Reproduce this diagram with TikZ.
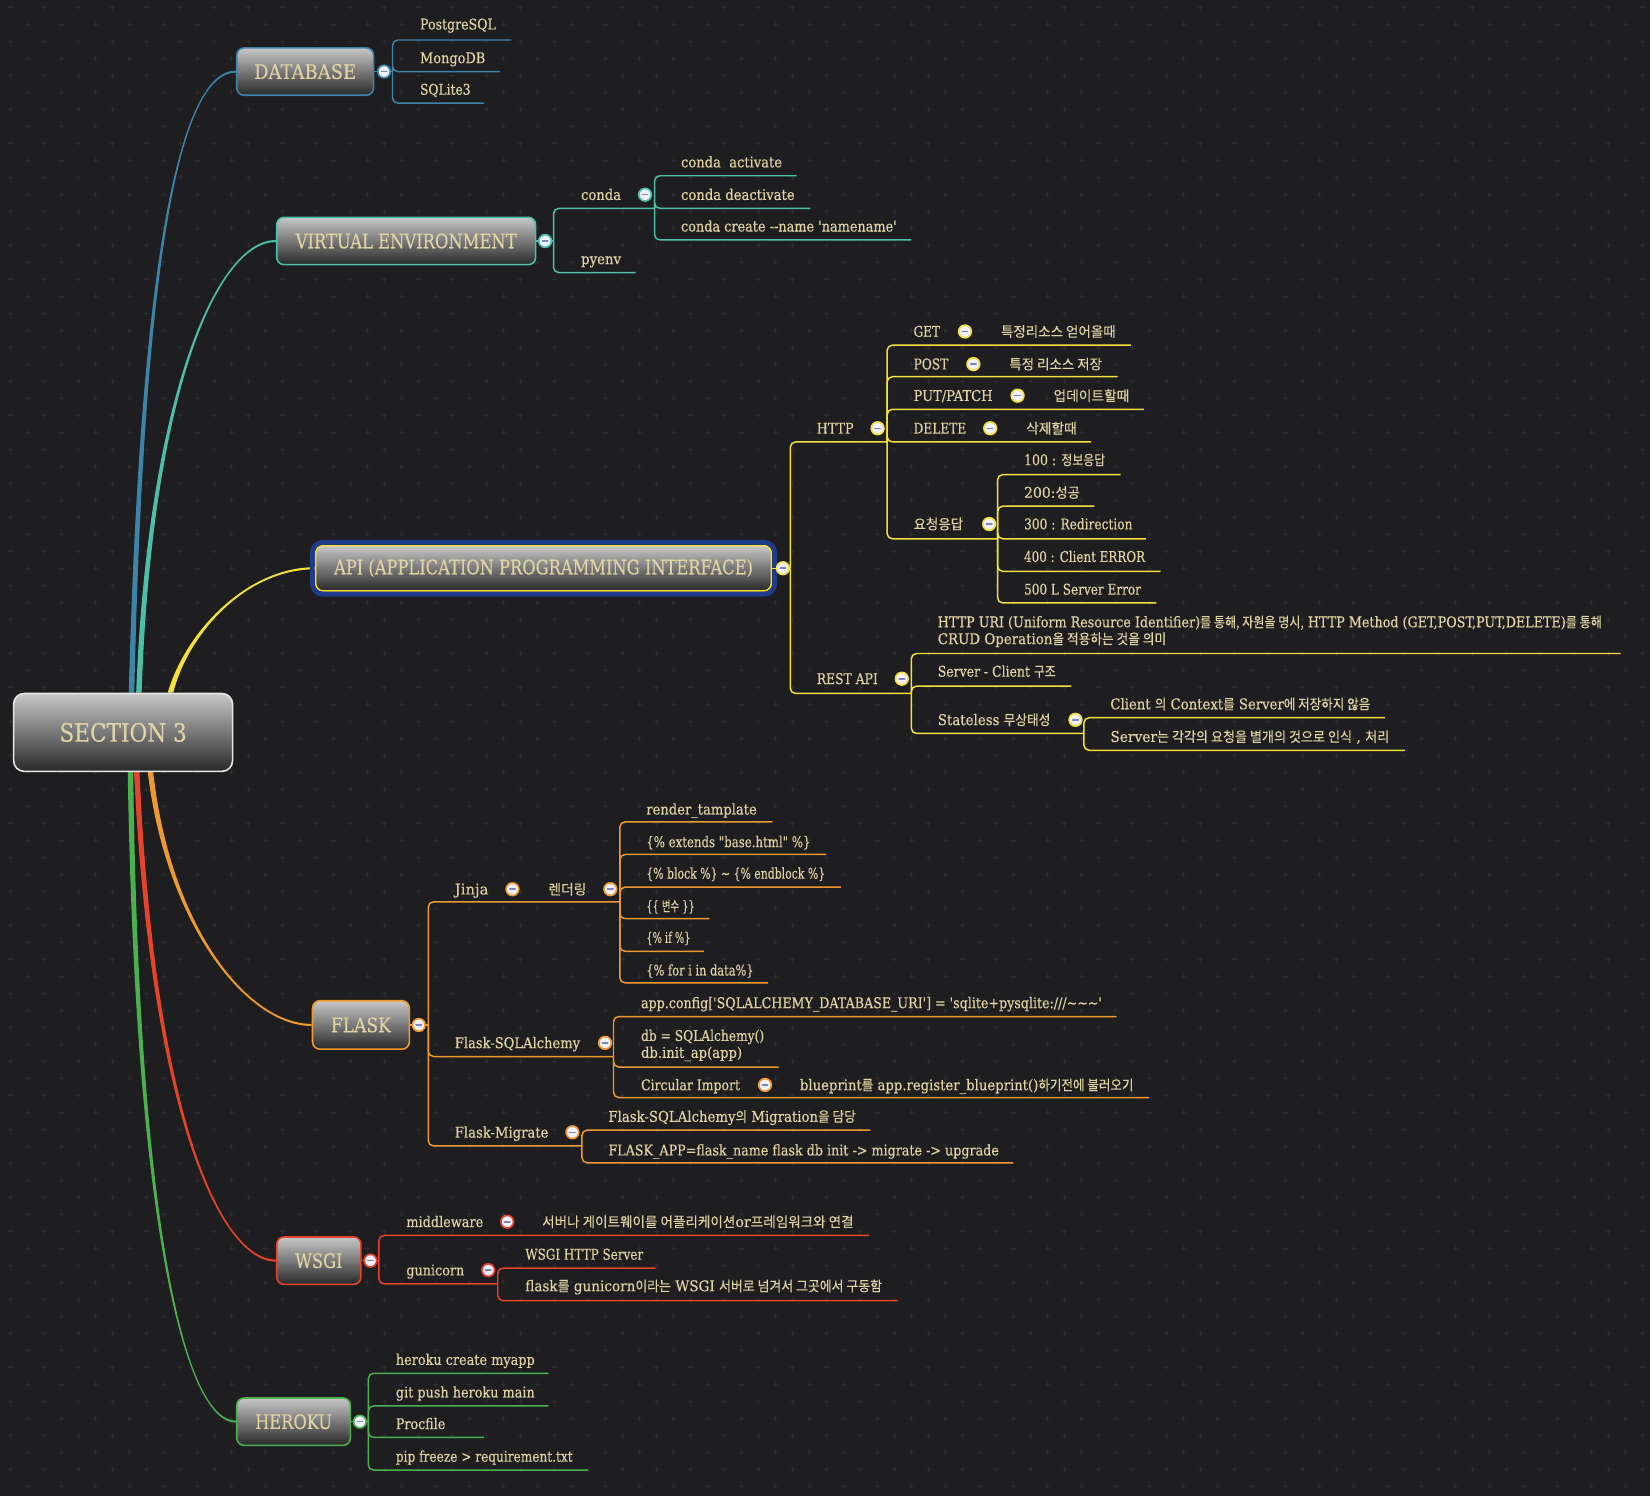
\documentclass[tikz,border=0pt]{standalone}
\usepackage{graphicx}
\usepackage{fontspec}
\setmainfont{DejaVu Serif}[Ligatures=TeXOff, FakeBold=0.4]
\newfontfamily\krf{Noto Sans CJK KR}[Scale=0.95, FakeBold=0.3]
\newcommand\kr[1]{{\krf #1}}
\newcommand\fw[2]{\resizebox{#1pt}{\height}{#2}}
\usetikzlibrary{calc,backgrounds}
\definecolor{bg}{HTML}{1E1E20}
\definecolor{gridc}{HTML}{2D2D30}
\definecolor{tcol}{HTML}{DED3A2}
\definecolor{cblue}{HTML}{3D84A8}
\definecolor{cteal}{HTML}{4DBFA6}
\definecolor{cyel}{HTML}{F3DF3E}
\definecolor{corg}{HTML}{EE9A30}
\definecolor{cred}{HTML}{E6432B}
\definecolor{cgrn}{HTML}{4CAF50}
\definecolor{ring}{HTML}{1F3C8C}
\definecolor{minusc}{HTML}{7A86C4}
\definecolor{boxtop}{HTML}{C8C8C8}
\definecolor{boxbot}{HTML}{282828}
\definecolor{rootbd}{HTML}{E6E6E6}
\newcommand\tx[5]{\node[txt] (#1) at (#2,#3+5) {\fw{#4}{#5}};}
\newcommand\mcirc[3]{\node[mc=#1] at (#2,#3) {};}
\newcommand\taper[7]{%
  \fill[#1] ($(#2)+(-2.6,0)$) .. controls ($(#3)+(-1.8,0)$) and ($(#4)+(0,#6)$) .. ($(#5)+(0,#6)$)
    -- ($(#5)+(0,#7)$) .. controls ($(#4)+(0,#7)$) and ($(#3)+(1.8,0)$) .. ($(#2)+(2.6,0)$) -- cycle;}
\begin{document}
\begin{tikzpicture}[x=1pt,y=-1pt,
  txt/.style={anchor=base west, inner sep=0pt, text=tcol, font=\fontsize{14}{16}\selectfont},
  txtm/.style={anchor=west, inner sep=0pt, text=tcol, align=left, font=\fontsize{14}{16}\selectfont},
  mbox/.style={draw=#1, line width=1.5pt, rounded corners=7pt, top color=boxtop, bottom color=boxbot,
    text=tcol, inner sep=0pt, font=\fontsize{19}{19}\selectfont},
  br/.style={draw=#1, line width=1.4pt, rounded corners=5pt},
  mc/.style={circle, minimum size=12pt, inner sep=0pt, fill=white!94!blue, draw=#1, line width=1.6pt,
    path picture={\draw[minusc, line width=1.5pt, line cap=round]
      ([xshift=-2.6pt]path picture bounding box.center) -- ([xshift=2.6pt]path picture bounding box.center);}},
  gridl/.style={draw=gridc, line width=0.7pt}
]
\useasboundingbox (0,0) rectangle (1568,1422);
\begin{scope}[on background layer]
\fill[bg] (0,0) rectangle (1568,1422);
\clip (0,0) rectangle (1568,1422);
\foreach \j in {0,...,88}{
  \pgfmathsetmacro\yy{6.96+16.16*\j}
  \pgfmathsetmacro\xo{9.55+16.16*mod(\j,2)}
  \draw[gridl] \foreach \k in {0,...,48}{ (\xo+32.32*\k,\yy) +(-2.4,0) -- +(2.4,0) +(0,-2.4) -- +(0,2.4) };
}
\end{scope}

% ---------- main boxes ----------
\node[mbox=rootbd, minimum width=208pt, minimum height=74pt, rounded corners=10pt,
  font=\fontsize{24}{24}\selectfont] (root) at (117,696) {\fw{121}{SECTION 3}};
\node[mbox=cblue, minimum width=130pt, minimum height=45pt] (db) at (290,68) {\fw{97}{DATABASE}};
\node[mbox=cteal, minimum width=246pt, minimum height=45pt] (venv) at (386,229) {\fw{210}{VIRTUAL ENVIRONMENT}};
\node[mbox=cyel, minimum width=433pt, minimum height=43pt] (api) at (516.5,540) {\fw{398}{API (APPLICATION PROGRAMMING INTERFACE)}};
\draw[ring, line width=4.5pt, rounded corners=10pt] ($(api.south west)+(-2.4,2.4)$) rectangle ($(api.north east)+(2.4,-2.4)$);
\node[mbox=corg, minimum width=92pt, minimum height=46pt] (flask) at (343,974) {\fw{57}{FLASK}};
\node[mbox=cred, minimum width=80pt, minimum height=45pt] (wsgi) at (303,1198) {\fw{45}{WSGI}};
\node[mbox=cgrn, minimum width=108pt, minimum height=45pt] (heroku) at (279,1351) {\fw{73}{HEROKU}};

% ---------- main branches ----------
\coordinate (sBlue) at ($(root.north)+(8,0)$);
\coordinate (sTeal) at ($(root.north)+(15,0)$);
\coordinate (sYel) at ($(root.north)+(45,0)$);
\coordinate (sOrg) at ($(root.south)+(26,0)$);
\coordinate (sRed) at ($(root.south)+(13,0)$);
\coordinate (sGrn) at ($(root.south)+(7,0)$);
\begin{scope}[on background layer]
\taper{cblue}{sBlue}{135,250}{170,68}{db.west}{-1}{1}
\taper{cteal}{sTeal}{142,380}{205,229}{venv.west}{-1}{1}
\taper{cyel}{sYel}{178,600}{235,540}{api.west}{-1}{1}
\taper{corg}{sOrg}{160,880}{235,974}{flask.west}{1}{-1}
\taper{cred}{sRed}{145,1060}{210,1198}{wsgi.west}{1}{-1}
\taper{cgrn}{sGrn}{130,1160}{175,1351}{heroku.west}{1}{-1}
\end{scope}

% ---------- DATABASE ----------
\tx{pg}{399}{23}{72}{PostgreSQL}
\tx{mongo}{399}{55}{62}{MongoDB}
\tx{sqlite}{399}{85}{48}{SQLite3}
\coordinate (dbj) at (373,68);
\coordinate (pg-e) at (486,38);
\coordinate (mongo-e) at (475,68);
\coordinate (sqlite-e) at (460,98);
\draw[br=cblue] (db.east) -- (dbj);
\draw[br=cblue] (dbj) |- (pg-e);
\draw[br=cblue] (dbj) |- (mongo-e);
\draw[br=cblue] (dbj) |- (sqlite-e);
\mcirc{cblue}{365}{68}

% ---------- VIRTUAL ENVIRONMENT ----------
\tx{conda}{552}{185}{38}{conda}
\tx{cact}{647}{154}{96}{conda\ \ activate}
\tx{cdeact}{647}{185}{108}{conda deactivate}
\tx{ccreate}{647}{215}{205}{conda create --name 'namename'}
\tx{pyenv}{552}{246}{38}{pyenv}
\coordinate (venvj) at (526,229);
\coordinate (conda-j) at (622,198);
\coordinate (cact-e) at (757,167);
\coordinate (cdeact-e) at (770,198);
\coordinate (ccreate-e) at (866,228);
\coordinate (pyenv-e) at (604,259);
\draw[br=cteal] (venv.east) -- (venvj);
\draw[br=cteal] (venvj) |- (conda-j);
\draw[br=cteal] (venvj) |- (pyenv-e);
\draw[br=cteal] (conda-j) |- (cact-e);
\draw[br=cteal] (conda-j) |- (cdeact-e);
\draw[br=cteal] (conda-j) |- (ccreate-e);
\mcirc{cteal}{518}{229}
\mcirc{cteal}{613}{185}

% ---------- API ----------
\tx{http}{776}{407}{35}{HTTP}
\tx{get}{868}{315}{25}{GET}
\tx{getd}{951}{315}{109}{\kr{특정리소스 얻어올때}}
\tx{post}{868}{346}{33}{POST}
\tx{postd}{959}{346}{88}{\kr{특정 리소스 저장}}
\tx{put}{868}{376}{75}{PUT/PATCH}
\tx{putd}{1001}{376}{72}{\kr{업데이트할때}}
\tx{del}{868}{407}{50}{DELETE}
\tx{deld}{975}{407}{48}{\kr{삭제할때}}
\tx{resp}{868}{498}{47}{\kr{요청응답}}
\tx{r100}{973}{437}{77}{100 : \kr{정보응답}}
\tx{r200}{973}{468}{53}{200:\kr{성공}}
\tx{r300}{973}{498}{103}{300 : Redirection}
\tx{r400}{973}{529}{115}{400 : Client ERROR}
\tx{r500}{973}{560}{111}{500 L Server Error}
\tx{rest}{776}{645}{58}{REST API}
\node[txtm] (restdesc) at (891,600) {\fw{631}{HTTP URI (Uniform Resource Identifier)\kr{를 통해, 자원을 명시,} HTTP Method (GET,POST,PUT,DELETE)\kr{를 통해}}\\\fw{217}{CRUD Operation\kr{을 적용하는 것을 의미}}};
\tx{sc}{891}{638}{112}{Server - Client \kr{구조}}
\tx{stl}{891}{684}{107}{Stateless \kr{무상태성}}
\tx{stl1}{1055}{669}{247}{Client \kr{의} Context\kr{를} Server\kr{에 저장하지 않음}}
\tx{stl2}{1055}{700}{265}{Server\kr{는 각각의 요청을 별개의 것으로 인식} , \kr{처리}}
\coordinate (apij) at (751,540);
\coordinate (http-j) at (843,420);
\coordinate (get-e) at (1075,328);
\coordinate (post-e) at (1062,358);
\coordinate (put-e) at (1087,389);
\coordinate (del-e) at (1037,420);
\coordinate (resp-j) at (948,512);
\coordinate (r100-e) at (1065,451);
\coordinate (r200-e) at (1040,481);
\coordinate (r300-e) at (1089,512);
\coordinate (r400-e) at (1103,543);
\coordinate (r500-e) at (1099,573);
\coordinate (rest-j) at (866,659);
\coordinate (restdesc-e) at (1540,621);
\coordinate (sc-e) at (1018,652);
\coordinate (stl-j) at (1030,697);
\coordinate (stl1-e) at (1316,682);
\coordinate (stl2-e) at (1335,713);
\draw[br=cyel] (api.east) -- (apij);
\draw[br=cyel] (apij) |- (http-j);
\draw[br=cyel] (apij) |- (rest-j);
\draw[br=cyel] (http-j) |- (get-e);
\draw[br=cyel] (http-j) |- (post-e);
\draw[br=cyel] (http-j) |- (put-e);
\draw[br=cyel] (http-j) |- (del-e);
\draw[br=cyel] (http-j) |- (resp-j);
\draw[br=cyel] (resp-j) |- (r100-e);
\draw[br=cyel] (resp-j) |- (r200-e);
\draw[br=cyel] (resp-j) |- (r300-e);
\draw[br=cyel] (resp-j) |- (r400-e);
\draw[br=cyel] (resp-j) |- (r500-e);
\draw[br=cyel] (rest-j) |- (restdesc-e);
\draw[br=cyel] (rest-j) |- (sc-e);
\draw[br=cyel] (rest-j) |- (stl-j);
\draw[br=cyel] (stl-j) |- (stl1-e);
\draw[br=cyel] (stl-j) |- (stl2-e);
\mcirc{cyel}{744}{540}
\mcirc{cyel}{834}{407}
\mcirc{cyel}{917}{315}
\mcirc{cyel}{925}{346}
\mcirc{cyel}{967}{376}
\mcirc{cyel}{941}{407}
\mcirc{cyel}{940}{498}
\mcirc{cyel}{857}{645}
\mcirc{cyel}{1022}{684}

% ---------- FLASK ----------
\tx{jinja}{432}{845}{32}{Jinja}
\tx{render}{521}{845}{36}{\kr{렌더링}}
\tx{j1}{614}{769}{105}{render\_tamplate}
\tx{j2}{614}{800}{156}{\{\% extends "base.html" \%\}}
\tx{j3}{614}{830}{170}{\{\% block \%\} \textasciitilde{} \{\% endblock \%\}}
\tx{j4}{614}{861}{46}{\{\{ \kr{변수} \}\}}
\tx{j5}{614}{891}{42}{\{\% if \%\}}
\tx{j6}{614}{922}{102}{\{\% for i in data\%\}}
\tx{fsa}{432}{991}{119}{Flask-SQLAlchemy}
\tx{cfg}{609}{953}{438}{app.config['SQLALCHEMY\_DATABASE\_URI'] = 'sqlite+pysqlite:///\textasciitilde\textasciitilde\textasciitilde'}
\node[txtm] (dbinit) at (609,993.5) {\fw{117}{db = SQLAlchemy()}\\\fw{96}{db.init\_ap(app)}};
\tx{circ}{609}{1031}{94}{Circular Import}
\tx{bp}{760}{1031}{317}{blueprint\kr{를} app.register\_blueprint()\kr{하기전에 불러오기}}
\tx{fmig}{432}{1076}{89}{Flask-Migrate}
\tx{m1}{578}{1061}{235}{Flask-SQLAlchemy\kr{의} Migration\kr{을 담당}}
\tx{m2}{578}{1093}{371}{FLASK\_APP=flask\_name flask db init -> migrate -> upgrade}
\coordinate (flaskj) at (407,974);
\coordinate (render-j) at (589,857);
\coordinate (j1-e) at (734,781);
\coordinate (j2-e) at (785,812);
\coordinate (j3-e) at (799,843);
\coordinate (j4-e) at (674,873);
\coordinate (j5-e) at (669,904);
\coordinate (j6-e) at (730,934);
\coordinate (fsa-j) at (583,1004);
\coordinate (cfg-e) at (1061,966);
\coordinate (dbinit-e) at (740,1014);
\coordinate (bp-e) at (1092,1043);
\coordinate (fmig-j) at (553,1089);
\coordinate (m1-e) at (827,1074);
\coordinate (m2-e) at (963,1105);
\draw[br=corg] (flask.east) -- (flaskj);
\draw[br=corg] (flaskj) |- (render-j);
\draw[br=corg] (flaskj) |- (fsa-j);
\draw[br=corg] (flaskj) |- (fmig-j);
\foreach \c in {j1-e,j2-e,j3-e,j4-e,j5-e,j6-e} {\draw[br=corg] (render-j) |- (\c);}
\draw[br=corg] (fsa-j) |- (cfg-e);
\draw[br=corg] (fsa-j) |- (dbinit-e);
\draw[br=corg] (fsa-j) |- (bp-e);
\draw[br=corg] (fmig-j) |- (m1-e);
\draw[br=corg] (fmig-j) |- (m2-e);
\mcirc{corg}{398}{974}
\mcirc{corg}{487}{845}
\mcirc{corg}{580}{845}
\mcirc{corg}{575}{991}
\mcirc{corg}{727}{1031}
\mcirc{corg}{544}{1076}

% ---------- WSGI ----------
\tx{mw}{386}{1161}{73}{middleware}
\tx{mwd}{515}{1161}{296}{\kr{서버나 게이트웨이를 어플리케이션}or\kr{프레임워크와 연결}}
\tx{guni}{386}{1207}{55}{gunicorn}
\tx{g1}{499}{1192}{112}{WSGI HTTP Server}
\tx{g2}{499}{1222}{339}{flask\kr{를} gunicorn\kr{이라는} WSGI \kr{서버로 넘겨서 그곳에서 구동함}}
\coordinate (wsgij) at (360,1198);
\coordinate (mwd-e) at (826,1174);
\coordinate (guni-j) at (473,1220);
\coordinate (g1-e) at (623,1205);
\coordinate (g2-e) at (853,1236);
\draw[br=cred] (wsgi.east) -- (wsgij);
\draw[br=cred] (wsgij) |- (mwd-e);
\draw[br=cred] (wsgij) |- (guni-j);
\draw[br=cred] (guni-j) |- (g1-e);
\draw[br=cred] (guni-j) |- (g2-e);
\mcirc{cred}{352}{1198}
\mcirc{cred}{482}{1161}
\mcirc{cred}{464}{1207}

% ---------- HEROKU ----------
\tx{h1}{376}{1292}{132}{heroku create myapp}
\tx{h2}{376}{1323}{132}{git push heroku main}
\tx{h3}{376}{1353}{47}{Procfile}
\tx{h4}{376}{1384}{168}{pip freeze > requirement.txt}
\coordinate (herj) at (350,1351);
\coordinate (h1-e) at (521,1305);
\coordinate (h2-e) at (521,1336);
\coordinate (h3-e) at (460,1366);
\coordinate (h4-e) at (559,1397);
\draw[br=cgrn] (heroku.east) -- (herj);
\foreach \c in {h1-e,h2-e,h3-e,h4-e} {\draw[br=cgrn] (herj) |- (\c);}
\mcirc{cgrn}{342}{1351}
\end{tikzpicture}
\end{document}
